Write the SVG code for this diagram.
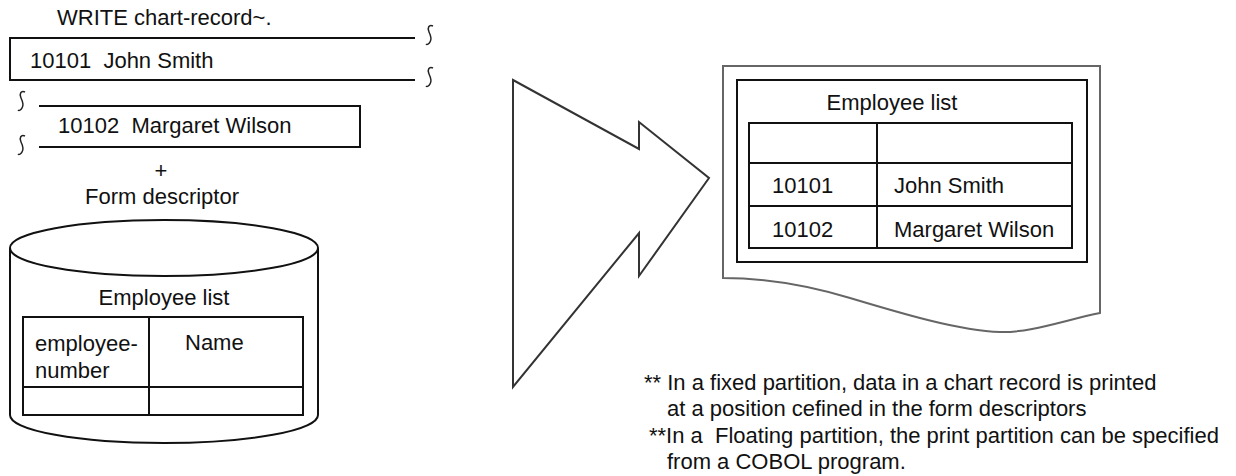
<svg xmlns="http://www.w3.org/2000/svg" width="1236" height="476" viewBox="0 0 1236 476">
<style>
text{font-family:"Liberation Sans",Arial,sans-serif;font-size:22px;fill:#111;}
.ln{fill:none;stroke:#111;stroke-width:2;}
.sq{fill:none;stroke:#222;stroke-width:1.5;}
.doc{fill:#fff;stroke:#666;stroke-width:2;}
.mid{text-anchor:middle;}
</style>
<defs>
<path id="squig" d="M3,-9 C-1,-11 -3,-7 -1,-3 C1,1 2,4 0,7 C-1,9 -3,10 -4,9"/>
</defs>
<g id="write-statement">
<text x="57" y="25">WRITE chart-record~.</text>
</g>
<g id="record-1">
<path class="ln" d="M415,38 H10 V80 H415"/>
<use href="#squig" class="sq" x="430" y="35"/>
<use href="#squig" class="sq" x="430" y="77"/>
<text x="30" y="68" xml:space="preserve">10101  John Smith</text>
</g>
<g id="record-2">
<path class="ln" d="M39,106 H360 V147 H39"/>
<use href="#squig" class="sq" x="22" y="101"/>
<use href="#squig" class="sq" x="22" y="145"/>
<text x="58" y="133" xml:space="preserve">10102  Margaret Wilson</text>
</g>
<g id="plus">
<text class="mid" x="161" y="178">+</text>
</g>
<g id="form-descriptor-label">
<text class="mid" x="162" y="204">Form descriptor</text>
</g>
<g id="form-descriptor">
<path class="ln" d="M10,248 V415 A154,28 0 0 0 318,415 V248"/>
<ellipse class="ln" cx="164" cy="248" rx="154" ry="28"/>
<text class="mid" x="164" y="305">Employee list</text>
<rect class="ln" x="23" y="317" width="280" height="98"/>
<line class="ln" x1="149" y1="317" x2="149" y2="415"/>
<line class="ln" x1="23" y1="387" x2="303" y2="387"/>
<text x="35" y="351">employee-</text>
<text x="35" y="378">number</text>
<text x="185" y="350">Name</text>
</g>
<g id="connectors">
<polygon fill="#fff" stroke="#333" stroke-width="2" stroke-linejoin="miter" points="513,80 639,149 639,122 709,178 639,276 639,233 513,387"/>
</g>
<g id="printed-form">
<path class="doc" d="M723,278 V66 H1100 V313 C1065,320 1030,333 1000,332 C960,331 900,313 850,298 C810,286 770,278 723,278 Z"/>
<rect class="ln" x="737" y="80" width="350" height="182"/>
<text class="mid" x="892" y="110">Employee list</text>
<rect class="ln" x="749" y="123" width="323" height="125"/>
<line class="ln" x1="877" y1="123" x2="877" y2="248"/>
<line class="ln" x1="749" y1="163" x2="1072" y2="163"/>
<line class="ln" x1="749" y1="206" x2="1072" y2="206"/>
<text x="772" y="193">10101</text>
<text x="894" y="193">John Smith</text>
<text x="772" y="237">10102</text>
<text x="894" y="237">Margaret Wilson</text>
</g>
<g id="notes">
<text x="644" y="390">** In a fixed partition, data in a chart record is printed</text>
<text x="667" y="416">at a position cefined in the form descriptors</text>
<text x="649" y="443" xml:space="preserve">**In a  Floating partition, the print partition can be specified</text>
<text x="667" y="469">from a COBOL program.</text>
</g>
</svg>
